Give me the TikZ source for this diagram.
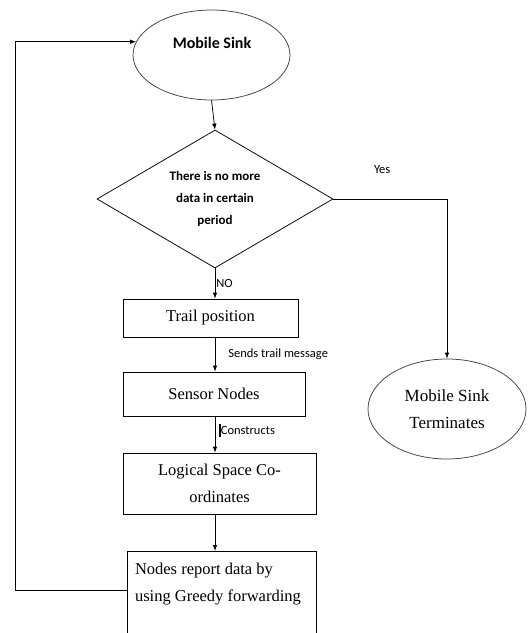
\documentclass[tikz,border=0pt]{standalone}
\usepackage{fontspec}
\setmainfont{Liberation Serif}
\newfontfamily\calibri{Carlito}
\usetikzlibrary{shapes.geometric,arrows.meta}

\begin{document}
\begin{tikzpicture}[x=1pt,y=-1pt,line width=0.75pt,
    >={Latex[length=6pt,width=4.5pt]},
    oval/.style={ellipse,draw=black!75,inner sep=0pt},
    box/.style={rectangle,draw,inner sep=0pt,align=center,font=\fontsize{16.5}{27}\selectfont},
    lbl/.style={font=\calibri\fontsize{12.5}{14}\selectfont,inner sep=1pt}]
  \useasboundingbox (0,0) rectangle (528,633);
  \clip (0,0) rectangle (528,633);

  % start and decision
  \node[oval,minimum width=157pt,minimum height=90pt] (sink) at (211.5,55) {};
  \node[font=\calibri\bfseries\fontsize{16}{18}\selectfont] (sinktext) at (212,43) {Mobile Sink};
  \node[diamond,draw,aspect=1.71,minimum width=236pt,minimum height=138pt,inner sep=0pt,align=center,
        font=\calibri\bfseries\fontsize{13}{22}\selectfont] (dec) at (215,199) {There is no more\\data in certain\\period};

  % main column
  \node[box,minimum width=175pt,minimum height=38pt] (trail) at (210.5,318) {Trail position};
  \node[box,minimum width=182pt,minimum height=44pt] (sensor) at (214,394) {Sensor Nodes};
  \node[box,minimum width=193pt,minimum height=61pt] (logical) at (219.5,483.5) {Logical Space Co-\\ordinates};
  \node[box,minimum width=189pt,minimum height=100pt,anchor=north] (report) at (221.5,551) {};
  \node[box,draw=none,align=left,anchor=north west] (reporttext) at ([xshift=8pt,yshift=-12pt]report.north west)
        {Nodes report data by\\using Greedy forwarding};

  % end
  \node[oval,minimum width=158pt,minimum height=100pt,align=center,font=\fontsize{17}{27}\selectfont] (term) at (447,409)
        {Mobile Sink\\Terminates};
  \coordinate (loop) at (15,590);

  \draw[->] (sink.south) -- (dec.north);
  \draw[->] (dec.east) -| (term.north) node[lbl,pos=0.25,above=24pt,xshift=-8pt] {Yes};
  \draw[->] (dec.south) -- (dec.south |- trail.north) node[lbl,midway,right] {NO};
  \draw[->] (trail.south -| dec.south) -- (sensor.north -| dec.south) node[lbl,midway,right,xshift=12pt] {Sends trail message};
  \draw[->] (sensor.south -| dec.south) -- (logical.north -| dec.south) node[lbl,midway,right,xshift=3pt,yshift=4pt] {\rule[-3pt]{1.5pt}{13pt}Constructs};
  \draw[->] (logical.south -| dec.south) -- (report.north -| dec.south);
  \draw[->] (report.west |- loop) -- (loop) |- (sink.170);
\end{tikzpicture}
\end{document}
